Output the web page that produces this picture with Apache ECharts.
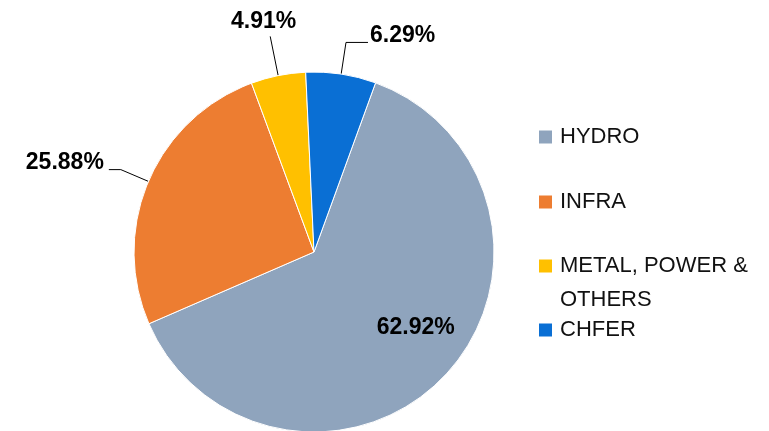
<!DOCTYPE html>
<html>
<head>
<meta charset="utf-8">
<script src="https://cdn.jsdelivr.net/npm/echarts@6/dist/echarts.min.js"></script>
<style>
  html, body { margin: 0; padding: 0; background: #fff; }
  #chart { width: 769px; height: 431px; }
</style>
</head>
<body>
<div id="chart"></div>
<script>
// segment names and their shares (%)
const categories = ['HYDRO', 'INFRA', 'METAL, POWER &\nOTHERS', 'CHFER'];
const shares = [62.92, 25.88, 4.91, 6.29];
const colors = ['#8fa4bd', '#ed7d31', '#ffc000', '#0a6fd4'];

const myChart = echarts.init(document.getElementById('chart'));

const legendText = {
  color: '#111',
  fontSize: 22,
  fontFamily: 'Liberation Sans, Arial, sans-serif',
  lineHeight: 34,
  padding: [0, 0, 0, 2]
};
const legendBase = {
  orient: 'vertical', left: 537, padding: 0,
  itemWidth: 15, itemHeight: 15, icon: 'rect', selectedMode: false,
  textStyle: legendText
};

// per-slice label tweaks (offset from where echarts puts them)
const labelTweaks = [
  { position: 'inside', offset: [34, 12] },
  { offset: [0, -7] },
  { offset: [31, -15] },
  { offset: [-3, -7] }
];
const lineTweaks = [
  null,
  { length: 30, length2: 12 },
  { length: 40, length2: 0 },
  { length: 32, length2: 22 }
];

const option = {
  animation: false,
  color: colors,
  legend: [
    Object.assign({}, legendBase, {
      top: 120, itemGap: 31,
      data: [categories[0], categories[1]]
    }),
    Object.assign({}, legendBase, {
      top: 215,
      data: [categories[2]],
      // empty first line so the icon sits next to "METAL, POWER &"
      formatter: name => ' \n' + name
    }),
    Object.assign({}, legendBase, {
      top: 313,
      data: [categories[3]]
    })
  ],
  series: [
    {
      type: 'pie',
      center: [314, 252],
      radius: 180,
      startAngle: 70,
      clockwise: true,
      avoidLabelOverlap: false,
      itemStyle: { borderColor: '#fff', borderWidth: 1 },
      label: {
        show: true,
        position: 'outside',
        color: '#000',
        fontSize: 23,
        fontWeight: 'bold',
        fontFamily: 'Liberation Sans, Arial, sans-serif',
        formatter: p => p.value.toFixed(2) + '%'
      },
      labelLine: {
        show: true,
        length: 30,
        length2: 12,
        lineStyle: { color: '#000', width: 1 }
      },
      data: categories.map((name, i) => {
        const item = { name: name, value: shares[i], label: labelTweaks[i] };
        if (lineTweaks[i]) item.labelLine = lineTweaks[i];
        return item;
      })
    }
  ]
};

myChart.setOption(option);
window.addEventListener('resize', function () {
  myChart.resize();
});
</script>
</body>
</html>
